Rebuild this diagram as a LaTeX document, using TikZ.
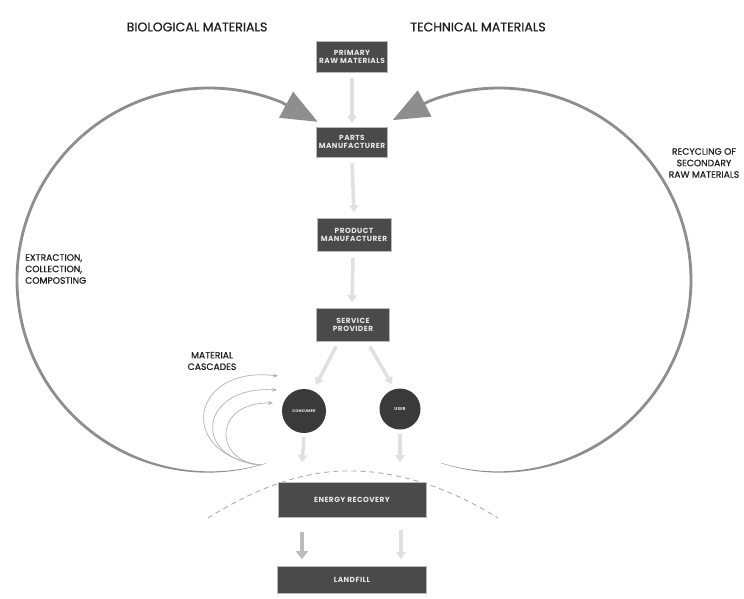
\documentclass[tikz,border=0pt]{standalone}
\usepackage{fontspec}
\setmainfont{Poppins}
\newfontfamily\labfont{Poppins}[FakeBold=0.6]
\newfontfamily\boxfont{Poppins}[LetterSpace=6]
\usetikzlibrary{arrows.meta}
\definecolor{boxfill}{HTML}{4A4A4A}
\definecolor{circfill}{HTML}{3A3A3A}
\definecolor{loopc}{HTML}{8E8E8E}
\definecolor{faint}{HTML}{E0E0E0}
\definecolor{mid}{HTML}{BBBBBB}
\definecolor{txt}{HTML}{1E1E1E}
\definecolor{boxtxt}{HTML}{E8E8E8}
\tikzset{
  stagebox/.style={fill=boxfill, draw=gray!55, line width=0.6pt, text=boxtxt, align=center, inner sep=0pt,
    font=\boxfont\bfseries\fontsize{7.4}{8.4}\selectfont},
  actor/.style={circle, fill=circfill, text=boxtxt, inner sep=0pt, font=\boxfont\bfseries\fontsize{3.8}{4.5}\selectfont},
  faintarrow/.style={draw=faint, line width=3.5pt, -{Triangle[length=7pt,width=9pt]}},
  loopline/.style={draw=loopc, line width=2.8pt, -{Triangle[length=36pt,width=29pt]}},
  cascade/.style={draw=gray!60, line width=0.7pt, -{Stealth[length=5pt,width=4pt]}},
  label/.style={text=txt, font=\labfont\fontsize{9.2}{11.5}\selectfont, inner sep=0pt},
  title/.style={text=txt, font=\labfont\fontsize{12.6}{14}\selectfont, inner sep=0pt}
}
\begin{document}
\begin{tikzpicture}[x=1pt,y=-1pt]
\useasboundingbox (0,0) rectangle (744,598);
\fill[white] (0,0) rectangle (744,598);

% titles
\node[title] (tbio) at (197,27) {BIOLOGICAL MATERIALS};
\node[title] (ttech) at (478,27) {TECHNICAL MATERIALS};

% dashed boundary
\coordinate (dl) at (208,518);
\coordinate (dr) at (498,518);
\draw[gray!65, line width=0.9pt, dash pattern=on 5pt off 4pt] (dl) .. controls (262,484) and (310,470) .. (352,471) .. controls (398,471) and (450,488) .. (dr);

% nodes
\node[stagebox, minimum width=71pt, minimum height=31pt] (prim) at (352,57) {PRIMARY\\RAW MATERIALS};
\node[stagebox, minimum width=71pt, minimum height=30pt] (parts) at (352,142) {PARTS\\MANUFACTURER};
\node[stagebox, minimum width=74pt, minimum height=33pt] (prod) at (354,235) {PRODUCT\\MANUFACTURER};
\node[stagebox, minimum width=73pt, minimum height=33pt] (serv) at (353,325) {SERVICE\\PROVIDER};
\node[actor, minimum size=44pt] (cons) at (304,411) {CONSUMER};
\node[actor, minimum size=41pt, font=\boxfont\bfseries\fontsize{4.2}{5}\selectfont] (user) at (400,409) {USER};
\node[stagebox, minimum width=148pt, minimum height=35pt] (energy) at (352,500) {ENERGY RECOVERY};
\node[stagebox, minimum width=149pt, minimum height=27pt] (landfill) at (352,580) {LANDFILL};

% faint flow arrows (yshift is in page direction: positive = up)
\draw[faintarrow] ([yshift=-5pt]prim.south) -- ([yshift=4pt]parts.north);
\draw[faintarrow] ([yshift=-6pt]parts.south) -- ([yshift=6pt]prod.north);
\draw[faintarrow] ([xshift=-1pt,yshift=-6pt]prod.south) -- ([xshift=-1pt,yshift=6pt]serv.north);
\draw[faintarrow] ([xshift=-17pt,yshift=-5pt]serv.south) -- ([xshift=12pt,yshift=4pt]cons.north);
\draw[faintarrow] ([xshift=17pt,yshift=-5pt]serv.south) -- ([xshift=-8pt,yshift=4pt]user.north);
\draw[faintarrow] ([yshift=-4pt]cons.south) -- ([xshift=-50pt,yshift=20pt]energy.north);
\draw[faintarrow] ([yshift=-4pt]user.south) -- ([xshift=48pt,yshift=20pt]energy.north);
\draw[draw=mid, line width=3.8pt, -{Triangle[length=8pt,width=12pt]}] ([xshift=-50pt,yshift=-14pt]energy.south) -- ([xshift=-50pt,yshift=7pt]landfill.north);
\draw[faintarrow] ([xshift=49pt,yshift=-12pt]energy.south) -- ([xshift=49pt,yshift=7pt]landfill.north);

% big loops (tapered circular arcs)
\fill[loopc] plot[domain=72.6:292, samples=140]
   ({209+(192+0.15+1.25*min(1,(\x-72.6)/45))*cos(\x)}, {280+(192+0.15+1.25*min(1,(\x-72.6)/45))*sin(\x)})
   -- plot[domain=292:72.6, samples=140]
   ({209+(192-0.15-1.25*min(1,(\x-72.6)/45))*cos(\x)}, {280+(192-0.15-1.25*min(1,(\x-72.6)/45))*sin(\x)}) -- cycle;
\coordinate (lneck) at ({209+192*cos(292)},{280+192*sin(292)});
\coordinate (ltip) at ({209+192*cos(304.5)},{280+192*sin(304.5)});
\draw[loopline] (lneck) -- (ltip);

\fill[loopc] plot[domain=107.7:-111.5, samples=140]
   ({499+(192+0.15+1.25*min(1,(107.7-\x)/45))*cos(\x)}, {280+(192+0.15+1.25*min(1,(107.7-\x)/45))*sin(\x)})
   -- plot[domain=-111.5:107.7, samples=140]
   ({499+(192-0.15-1.25*min(1,(107.7-\x)/45))*cos(\x)}, {280+(192-0.15-1.25*min(1,(107.7-\x)/45))*sin(\x)}) -- cycle;
\coordinate (rneck) at ({499+192*cos(-111.5)},{280+192*sin(-111.5)});
\coordinate (rtip) at ({499+192*cos(-123.6)},{280+192*sin(-123.6)});
\draw[loopline] (rneck) -- (rtip);

% material cascades
\draw[cascade] (262,465) .. controls (175,455) and (190,365) .. (278,376);
\draw[cascade] (260,465) .. controls (190,458) and (200,385) .. (277,390);
\draw[cascade] (258,465) .. controls (212,458) and (215,402) .. (273,403);

% labels
\node[label, align=center] (lcasc) at (212,361) {MATERIAL\\CASCADES};
\node[label, align=left, anchor=north west] (lext) at (25,254) {EXTRACTION,\\COLLECTION,\\COMPOSTING};
\node[label, align=center] (lrec) at (704,163) {RECYCLING OF\\SECONDARY\\RAW MATERIALS};
\end{tikzpicture}
\end{document}
